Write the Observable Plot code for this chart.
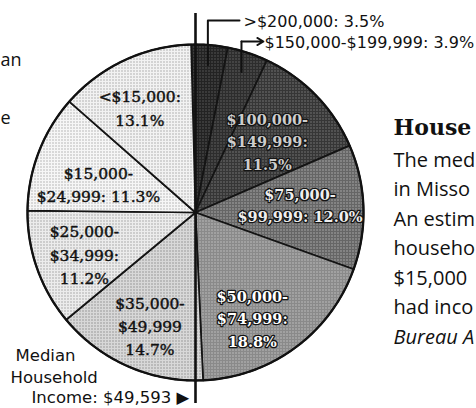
<!DOCTYPE html>
<html><head><meta charset="utf-8">
<script src="https://cdn.jsdelivr.net/npm/d3@7"></script>
<script src="https://cdn.jsdelivr.net/npm/@observablehq/plot@0.6"></script>
<style>html,body{margin:0;padding:0;background:#fff;overflow:hidden}</style>
</head><body><div id="chart"></div>
<script>
// ---- data ----
const categories = [">$200,000", "$150,000-$199,999", "$100,000-$149,999", "$75,000-$99,999", "$50,000-$74,999", "$35,000-$49,999", "$25,000-$34,999", "$15,000-$24,999", "<$15,000"];
const shares = [3.5, 3.9, 11.5, 12.0, 18.8, 14.7, 11.2, 11.3, 13.1];
const sliceLabels = [null, null, "$100,000-\n$149,999:\n11.5%", "$75,000-\n$99,999: 12.0%", "$50,000-\n$74,999:\n18.8%", "$35,000-\n$49,999\n14.7%", "$25,000-\n$34,999:\n11.2%", "$15,000-\n$24,999: 11.3%", "<$15,000:\n13.1%"];
const outsideLabels = [">$200,000: 3.5%", "$150,000-$199,999: 3.9%"];
const medianLines = ["Median", "Household", "Income: $49,593 \u25B6"];
const headingText = "House";
const bodyLines = ["The med", "in Misso", "An estim", "househo", "$15,000", "had inco"];
const sourceText = "Bureau A";
const leftFragments = ["an", "e"];

// ---- styles (average halftone tones) ----
const tones = [
  {bg: "#232323", dot: "#7d7d7d"},
  {bg: "#2d2d2d", dot: "#878787"},
  {bg: "#363636", dot: "#a5a5a5"},
  {bg: "#666666", dot: "#dedede"},
  {bg: "#8a8a8a", dot: "#e6e6e6"},
  {bg: "#d8d8d8", dot: "#5e5e5e"},
  {bg: "#ececec", dot: "#707070"},
  {bg: "#f6f6f6", dot: "#7c7c7c"},
  {bg: "#f2f2f2", dot: "#767676"}
];
const darkSlice = [true, true, true, true, true, false, false, false, false];
const labelFill = ["#111", "#111", "#cdcdcd", "#efefef", "#ffffff", "#111", "#111", "#111", "#111"];
// layout nudges for the hand-placed slice labels (pixels)
const labelNudge = [[0, 0], [0, 0], [-9, 6], [-8, -5], [-10, 14], [0, 9], [-5, 3], [8, 11], [-8, -4]];

// ---- geometry ----
const CX = 195, CY = 212, R = 168, START = -1.5, LR = 0.67;
const X = px => (px - CX) / R;
const Y = py => (CY - py) / R;
const rad = a => a * Math.PI / 180;

let cum = 0;
const slices = shares.map((v, i) => {
  const a0 = START + cum * 3.6; cum += v; const a1 = START + cum * 3.6;
  return {i, cat: categories[i], v, a0, a1, mid: (a0 + a1) / 2};
});
const slicePts = slices.flatMap(s => {
  const n = Math.max(4, Math.ceil((s.a1 - s.a0) * 2));
  const arr = [{cat: s.cat, x: 0, y: 0, pat: `url(#pat${s.i})`}];
  for (let k = 0; k <= n; k++) {
    const a = rad(s.a0 + (s.a1 - s.a0) * k / n);
    arr.push({cat: s.cat, x: Math.sin(a), y: Math.cos(a), pat: `url(#pat${s.i})`});
  }
  arr.push({cat: s.cat, x: 0, y: 0, pat: `url(#pat${s.i})`});
  return arr;
});
const circlePts = d3.range(0, 361, 1).map(a => ({x: Math.sin(rad(a)), y: Math.cos(rad(a))}));
const labelData = slices.filter(s => sliceLabels[s.i]).map(s => ({
  x: Math.sin(rad(s.mid)) * LR + labelNudge[s.i][0] / R,
  y: Math.cos(rad(s.mid)) * LR - labelNudge[s.i][1] / R,
  text: sliceLabels[s.i], fill: labelFill[s.i], dark: darkSlice[s.i]
}));

// outside labels with leaders
const outY = [20, 41], outX = [243, 264], outBase = [26, 47];
const leaderPts = [0, 1].flatMap(j => {
  const s = slices[j], f = 0.88;
  const sx = Math.sin(rad(s.mid)) * f, sy = Math.cos(rad(s.mid)) * f;
  const pts = [{id: j, x: sx, y: sy}, {id: j, x: sx, y: Y(outY[j])}];
  if (j === 0) pts.push({id: j, x: X(outX[j] - 4), y: Y(outY[j])});
  return pts;
});
const arrowData = [{x1: Math.sin(rad(slices[1].mid)) * 0.88, x2: X(outX[1] - 1), y: Y(outY[1])}];
const outData = outsideLabels.map((t, j) => ({text: t, x: X(outX[j]), y: Y(outBase[j])}));

const medX = [15, 10, 31], medBase = [360, 382, 402];
const medData = medianLines.map((t, j) => ({text: t, x: X(medX[j]), y: Y(medBase[j])}));
const bodyData = bodyLines.map((t, j) => ({text: t, x: X(393), y: Y(166 + 29.5 * j)}));
const leftData = leftFragments.map((t, j) => ({text: t, x: X(0), y: Y(j ? 123 : 65)}));

const chart = Plot.plot({
  width: 476, height: 408, margin: 0,
  x: {domain: [-1, 1], range: [CX - R, CX + R], axis: null},
  y: {domain: [-1, 1], range: [CY + R, CY - R], axis: null},
  color: {type: "identity"},
  style: {background: "#fff", overflow: "hidden"},
  marks: [
    Plot.line(slicePts, {x: "x", y: "y", z: "cat", fill: "pat", stroke: "#141414", strokeWidth: 1.7, strokeLinejoin: "round"}),
    Plot.line(circlePts, {x: "x", y: "y", stroke: "#111", strokeWidth: 2.3}),
    Plot.ruleX([0], {y1: Y(13), y2: Y(403), stroke: "#111", strokeWidth: 2.6}),
    Plot.line(leaderPts, {x: "x", y: "y", z: "id", stroke: "#111", strokeWidth: 2}),
    Plot.arrow(arrowData, {x1: "x1", x2: "x2", y1: "y", y2: "y", stroke: "#111", strokeWidth: 1.8, headLength: 6}),
    Plot.text(labelData.filter(d => d.dark), {x: "x", y: "y", text: "text", fill: "fill", stroke: "#151515", strokeWidth: 2.6, paintOrder: "stroke", fontFamily: "DejaVu Serif", fontWeight: "bold", fontSize: 14.5, lineHeight: 1.55}),
    Plot.text(labelData.filter(d => !d.dark), {x: "x", y: "y", text: "text", fill: "#111", stroke: "#111", strokeWidth: 0.45, fontFamily: "DejaVu Serif", fontSize: 15.5, lineHeight: 1.5}),
    Plot.text(outData, {x: "x", y: "y", text: "text", textAnchor: "start", lineAnchor: "bottom", fontFamily: "DejaVu Sans", fontSize: 16, fill: "#111"}),
    Plot.text(medData, {x: "x", y: "y", text: "text", textAnchor: "start", lineAnchor: "bottom", fontFamily: "DejaVu Sans", fontSize: 16.5, fill: "#111"}),
    Plot.text([headingText], {x: X(393), y: Y(134), text: d => d, textAnchor: "start", lineAnchor: "bottom", fontFamily: "DejaVu Serif", fontWeight: "bold", fontSize: 22, fill: "#111"}),
    Plot.text(bodyData, {x: "x", y: "y", text: "text", textAnchor: "start", lineAnchor: "bottom", fontFamily: "Open Sans", fontSize: 20, fill: "#111"}),
    Plot.text([sourceText], {x: X(393), y: Y(166 + 29.5 * 6), text: d => d, textAnchor: "start", lineAnchor: "bottom", fontFamily: "Open Sans", fontStyle: "italic", fontSize: 20, fill: "#111"}),
    Plot.text(leftData, {x: "x", y: "y", text: "text", textAnchor: "start", lineAnchor: "bottom", fontFamily: "Open Sans", fontSize: 18, fill: "#111"})
  ]
});

// halftone-like patterns
const defs = d3.select(chart).insert("defs", ":first-child");
tones.forEach((t, i) => {
  const p = defs.append("pattern").attr("id", "pat" + i).attr("width", 3).attr("height", 3).attr("patternUnits", "userSpaceOnUse");
  p.append("rect").attr("width", 3).attr("height", 3).attr("fill", t.bg);
  p.append("rect").attr("x", 1).attr("y", 1).attr("width", 1).attr("height", 1).attr("fill", t.dot);
});
document.getElementById("chart").appendChild(chart);
</script>
</body></html>
